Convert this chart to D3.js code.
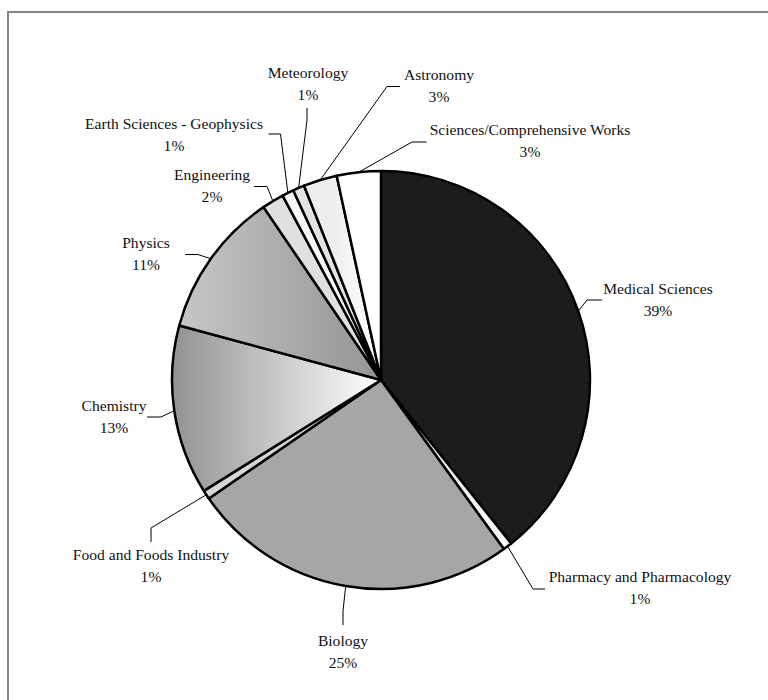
<!DOCTYPE html>
<html>
<head>
<meta charset="utf-8">
<script src="https://cdn.jsdelivr.net/npm/d3@7"></script>
<style>
  html, body { margin: 0; padding: 0; background: #fff; }
  svg { display: block; }
  text { font-family: "Liberation Serif", "Times New Roman", serif; font-size: 15.6px; fill: #111; }
</style>
</head>
<body>
<svg id="chart" width="768" height="700"></svg>
<script>
// Subject areas, clockwise from 12 o'clock
const categories = [
  "Medical Sciences",
  "Pharmacy and Pharmacology",
  "Biology",
  "Food and Foods Industry",
  "Chemistry",
  "Physics",
  "Engineering",
  "Earth Sciences - Geophysics",
  "Meteorology",
  "Astronomy",
  "Sciences/Comprehensive Works"
];

// Share of titles per subject area (%)
const shares = [39.3, 0.7, 25.4, 0.7, 13.1, 11.3, 1.7, 0.9, 0.9, 2.6, 3.4];

// Slice fills (gradient ids or flat colours)
const fills = [
  "#1c1c1c", "url(#gPharm)", "#a6a6a6", "#d6d6d6", "url(#gChem)",
  "url(#gPhys)", "#e0e0e0", "#f6f6f6", "#e4e4e4", "url(#gAstro)", "#ffffff"
];

// Label placement: text centre, then leader elbow and leader end
const labelPos = [
  { x: 658, y: 289, elbow: [587, 300], end: [602, 300] },
  { x: 640, y: 577, elbow: [533, 589], end: [545, 589] },
  { x: 343, y: 641, elbow: [343, 611], end: [343, 625] },
  { x: 151, y: 555, elbow: [151, 528], end: [151, 542] },
  { x: 114, y: 406, elbow: [161, 417], end: [147, 417] },
  { x: 146, y: 243, elbow: [198, 254.5], end: [185, 254.5] },
  { x: 212, y: 175, elbow: [267, 186.5], end: [254, 186.5] },
  { x: 174, y: 124, elbow: [280.5, 134], end: [268.5, 134] },
  { x: 308, y: 73,  elbow: [307, 120], end: [307, 108] },
  { x: 439, y: 75,  elbow: [387, 86.5], end: [400, 86.5] },
  { x: 530, y: 130, elbow: [412, 142], end: [426.5, 142] }
];

const cx = 381, cy = 380, R = 209;
const svg = d3.select("#chart");

// Outer frame
svg.append("rect")
  .attr("x", 8).attr("y", 12)
  .attr("width", 820).attr("height", 800)
  .attr("fill", "none").attr("stroke", "#858585").attr("stroke-width", 2);

// Horizontal gradients, in the pie group's coordinates (centre at 0,0)
const defs = svg.append("defs");
function hGrad(id, x1, x2, stops) {
  const lg = defs.append("linearGradient").attr("id", id)
    .attr("gradientUnits", "userSpaceOnUse")
    .attr("x1", x1).attr("y1", 0).attr("x2", x2).attr("y2", 0);
  stops.forEach(([o, c]) => lg.append("stop").attr("offset", o).attr("stop-color", c));
}
hGrad("gChem", -R, 0, [[0, "#929292"], [1, "#ffffff"]]);
hGrad("gPhys", -R, 0, [[0, "#c8c8c8"], [1, "#949494"]]);
hGrad("gPharm", 0, 135, [[0, "#e0e0e0"], [1, "#ffffff"]]);
hGrad("gAstro", -50, 0, [[0, "#eeeeee"], [1, "#ffffff"]]);

const pie = d3.pie().sort(null).value(d => d);
const arcs = pie(shares);
const arc = d3.arc().innerRadius(0).outerRadius(R);

const g = svg.append("g").attr("transform", `translate(${cx},${cy})`);

g.selectAll("path.slice")
  .data(arcs)
  .join("path")
  .attr("class", "slice")
  .attr("d", arc)
  .attr("fill", (d, i) => fills[i])
  .attr("stroke", "#000")
  .attr("stroke-width", 2.5)
  .attr("stroke-linejoin", "round");

// Leader lines from each slice's mid-angle on the rim
const line = d3.line();
svg.selectAll("path.leader")
  .data(arcs)
  .join("path")
  .attr("class", "leader")
  .attr("d", (d, i) => {
    const p = d3.pointRadial((d.startAngle + d.endAngle) / 2, R);
    const lp = labelPos[i];
    return line([[cx + p[0], cy + p[1]], lp.elbow, lp.end]);
  })
  .attr("fill", "none")
  .attr("stroke", "#000")
  .attr("stroke-width", 1);

// Category and percentage labels
const labels = svg.selectAll("g.label")
  .data(arcs)
  .join("g")
  .attr("class", "label")
  .attr("transform", (d, i) => `translate(${labelPos[i].x},${labelPos[i].y})`);

labels.append("text")
  .attr("text-anchor", "middle")
  .attr("dy", "0.35em")
  .text((d, i) => categories[i]);

labels.append("text")
  .attr("text-anchor", "middle")
  .attr("y", 22)
  .attr("dy", "0.35em")
  .text(d => Math.round(d.data) + "%");
</script>
</body>
</html>
